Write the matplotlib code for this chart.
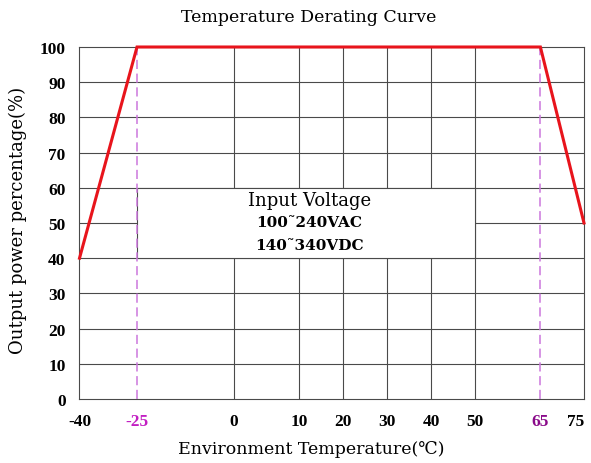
import matplotlib
matplotlib.use('Agg')
from matplotlib import pyplot as plt
from matplotlib.patches import Rectangle
import numpy as np

# derating curve
temp = [-40, -25, 65, 75]
power = [40, 100, 100, 50]

x_ticks = [-40, -25, 0, 10, 20, 30, 40, 50, 65, 75]
x_tick_pos = [79.5, 137, 234, 299, 342.6, 386.8, 431, 474.7, 540.4, 584]  # uneven axis spacing
y_ticks = [0, 10, 20, 30, 40, 50, 60, 70, 80, 90, 100]
x_grid = [0, 10, 20, 30, 40, 50]
marked = [-25, 65]
marked_colors = {-25: '#c21ec2', 65: '#8a0a8a'}

title = 'Temperature Derating Curve'
xlabel = 'Environment Temperature(\u2103)'
ylabel = 'Output power percentage(%)'
note = ['Input Voltage', '100\u02dc240VAC', '140\u02dc340VDC']

txt_font = ['DejaVu Serif', 'DejaVu Sans']
serif = 'Liberation Serif'


def fwd(x):
    return np.interp(x, x_ticks, x_tick_pos)


def inv(p):
    return np.interp(p, x_tick_pos, x_ticks)


fig = plt.figure(figsize=(5.91, 4.64), dpi=100)
ax = fig.add_axes([79.5 / 591, 1 - 400 / 464, (584 - 79.5) / 591, 352 / 464])
ax.set_xscale('function', functions=(fwd, inv))
ax.set_xlim(-40, 75)
ax.set_ylim(0, 100)

grid_kw = dict(color='#4a4a4a', lw=0.8, zorder=1)
for y in y_ticks[1:-1]:
    ax.axhline(y, **grid_kw)
for x in x_grid:
    ax.axvline(x, **grid_kw)

# white box behind the voltage note
ax.add_patch(Rectangle((-25, 40), 75, 20, facecolor='white', edgecolor='#4a4a4a',
                       lw=0.8, zorder=2))

for x in marked:
    ax.plot([x, x], [0, 100], color='#cc77dd', lw=1.1, dashes=(6, 3), zorder=3)

ax.plot(temp, power, color='#e8141c', lw=2.2, zorder=4, clip_on=False,
        solid_joinstyle='miter')

for s in ax.spines.values():
    s.set_color('#4a4a4a')
    s.set_linewidth(0.8)

ax.set_xticks(x_ticks)
ax.set_xticklabels([str(v) for v in x_ticks])
ax.set_yticks(y_ticks)
ax.set_yticklabels([str(v) for v in y_ticks])
ax.tick_params(length=0, labelsize=12.5)
ax.tick_params(axis='x', pad=10)
ax.tick_params(axis='y', pad=10)
for lab in ax.get_xticklabels() + ax.get_yticklabels():
    lab.set_fontfamily(serif)
    lab.set_fontweight('bold')
for lab, v in zip(ax.get_xticklabels(), x_ticks):
    if v in marked_colors:
        lab.set_color(marked_colors[v])
ax.get_xticklabels()[-1].set_horizontalalignment('right')
ax.get_xticklabels()[-1].set_x(75)

ax.text(0.456, 0.565, note[0], transform=ax.transAxes, ha='center', va='center',
        family=txt_font, fontsize=13, zorder=5)
ax.text(0.456, 0.503, note[1], transform=ax.transAxes, ha='center', va='center',
        family=txt_font, fontsize=11, fontweight='bold', zorder=5)
ax.text(0.456, 0.438, note[2], transform=ax.transAxes, ha='center', va='center',
        family=txt_font, fontsize=11, fontweight='bold', zorder=5)

fig.text(308.5 / 591, 1 - 18 / 464, title, ha='center', va='center', family=txt_font, fontsize=12.5)
fig.text(311 / 591, 1 - 450 / 464, xlabel, ha='center', va='center', family=txt_font, fontsize=12.5)
fig.text(18 / 591, 1 - 220 / 464, ylabel, ha='center', va='center', rotation=90,
         family=txt_font, fontsize=13)

fig.savefig('out.png', dpi=100)
